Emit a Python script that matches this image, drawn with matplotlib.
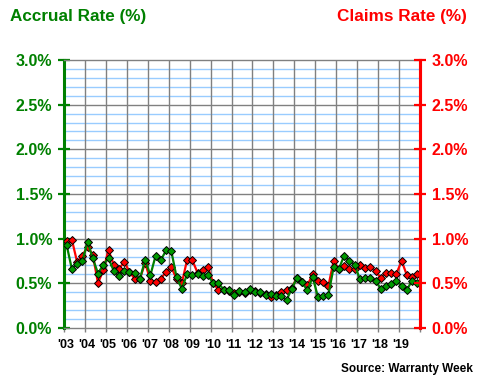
import matplotlib
matplotlib.use("Agg")
import matplotlib.pyplot as plt
import matplotlib.transforms as mtransforms
import numpy as np

years = list(range(2003, 2020))
year_labels = ["'03", "'04", "'05", "'06", "'07", "'08", "'09", "'10", "'11",
               "'12", "'13", "'14", "'15", "'16", "'17", "'18", "'19"]

# quarterly rates, 2003 Q1 .. 2019 Q4
accrual_rate = [0.93, 0.66, 0.72, 0.75, 0.96, 0.78, 0.61, 0.71, 0.78, 0.64,
                0.58, 0.64, 0.63, 0.62, 0.55, 0.76, 0.59, 0.81, 0.76, 0.87,
                0.86, 0.57, 0.44, 0.60, 0.59, 0.61, 0.58, 0.59, 0.50, 0.50,
                0.43, 0.43, 0.37, 0.41, 0.40, 0.44, 0.40, 0.40, 0.37, 0.38,
                0.36, 0.36, 0.31, 0.44, 0.56, 0.51, 0.42, 0.57, 0.35, 0.36,
                0.37, 0.68, 0.66, 0.81, 0.75, 0.71, 0.55, 0.56, 0.56, 0.53,
                0.44, 0.47, 0.49, 0.53, 0.47, 0.43, 0.53, 0.50]
claims_rate = [0.97, 0.99, 0.74, 0.81, 0.91, 0.82, 0.50, 0.65, 0.87, 0.71,
               0.66, 0.74, 0.63, 0.55, 0.55, 0.73, 0.53, 0.52, 0.55, 0.63,
               0.68, 0.55, 0.50, 0.76, 0.76, 0.62, 0.65, 0.68, 0.50, 0.43,
               0.43, 0.41, 0.39, 0.40, 0.39, 0.43, 0.41, 0.39, 0.38, 0.35,
               0.37, 0.40, 0.43, 0.45, 0.56, 0.52, 0.48, 0.60, 0.53, 0.52,
               0.47, 0.75, 0.66, 0.69, 0.66, 0.66, 0.71, 0.67, 0.68, 0.64,
               0.56, 0.62, 0.62, 0.61, 0.75, 0.59, 0.57, 0.60]

quarters = [2003 + (i + 0.5) / 4 for i in range(len(accrual_rate))]

plt.rcParams['font.family'] = ['Liberation Sans', 'DejaVu Sans']
plt.rcParams['font.weight'] = 'bold'

GREEN = '#008000'
GREEN_M = '#009a00'
RED = '#ff0000'
GREY = '#808080'
LBLUE = '#99ccff'

fig = plt.figure(figsize=(4.8, 3.8), dpi=100)
ax = fig.add_axes([64/480, 1-328/380, (420-64)/480, (328-60)/380])

ax.set_xlim(2003, 2020)
ax.set_ylim(0, 3.0)

# grid
for yv in np.arange(0.1, 3.0, 0.1):
    major = abs(round(yv*10) % 5) == 0
    ax.axhline(yv, color=GREY if major else LBLUE, lw=1.0, zorder=0.5)
for xv in range(2004, 2020):
    ax.axvline(xv, color=GREY, lw=1.0, zorder=0.6)

ax.plot(quarters, claims_rate, color=RED, lw=1.6, marker='D', ms=4.5,
        mfc=RED, mec='black', mew=0.7, zorder=3)
ax.plot(quarters, accrual_rate, color=GREEN, lw=1.6, marker='D', ms=4.5,
        mfc=GREEN_M, mec='black', mew=0.7, zorder=4)

for s in ['top', 'bottom']:
    ax.spines[s].set_color(GREY)
    ax.spines[s].set_linewidth(1.0)
ax.spines['left'].set_color(GREEN)
ax.spines['left'].set_linewidth(2.2)
ax.spines['right'].set_color(RED)
ax.spines['right'].set_linewidth(2.2)

yt = np.arange(0, 3.01, 0.5)
ax.set_yticks(yt)
ax.set_yticklabels([f"{v:.1f}%" for v in yt])
ax.tick_params(axis='y', which='major', direction='inout', length=9, width=1.6,
               color=GREEN, labelcolor=GREEN, labelsize=11.5, pad=4)

ax2 = ax.twinx()
ax2.set_ylim(0, 3.0)
ax2.set_yticks(yt)
ax2.set_yticklabels([f"{v:.1f}%" for v in yt])
ax2.tick_params(axis='y', direction='inout', length=9, width=1.6,
                color=RED, labelcolor=RED, labelsize=11.5, pad=4)
ax2.spines['right'].set_color(RED)
ax2.spines['right'].set_linewidth(2.2)
ax2.spines['left'].set_visible(False)
ax2.spines['top'].set_visible(False)
ax2.spines['bottom'].set_visible(False)
ax.tick_params(axis='y', right=False, labelright=False)

ax.set_xticks(years + [2020])
ax.set_xticklabels(year_labels + [""])
ax.tick_params(axis='x', direction='out', length=3, width=1.0, color=GREY,
               labelcolor='black', labelsize=9, pad=5)
offset = mtransforms.ScaledTranslation(2/100, 0, fig.dpi_scale_trans)
for lbl in ax.get_xticklabels():
    lbl.set_transform(lbl.get_transform() + offset)

fig.text(10/480, 1-17/380, "Accrual Rate (%)", color=GREEN, fontsize=12.3,
         fontweight='bold', ha='left', va='center')
fig.text(467/480, 1-17/380, "Claims Rate (%)", color=RED, fontsize=12.3,
         fontweight='bold', ha='right', va='center')
fig.text(473/480, 1-369/380, "Source: Warranty Week", color='black', fontsize=8.5,
         fontweight='bold', ha='right', va='center')

fig.savefig("out.png", dpi=100, facecolor='white')
